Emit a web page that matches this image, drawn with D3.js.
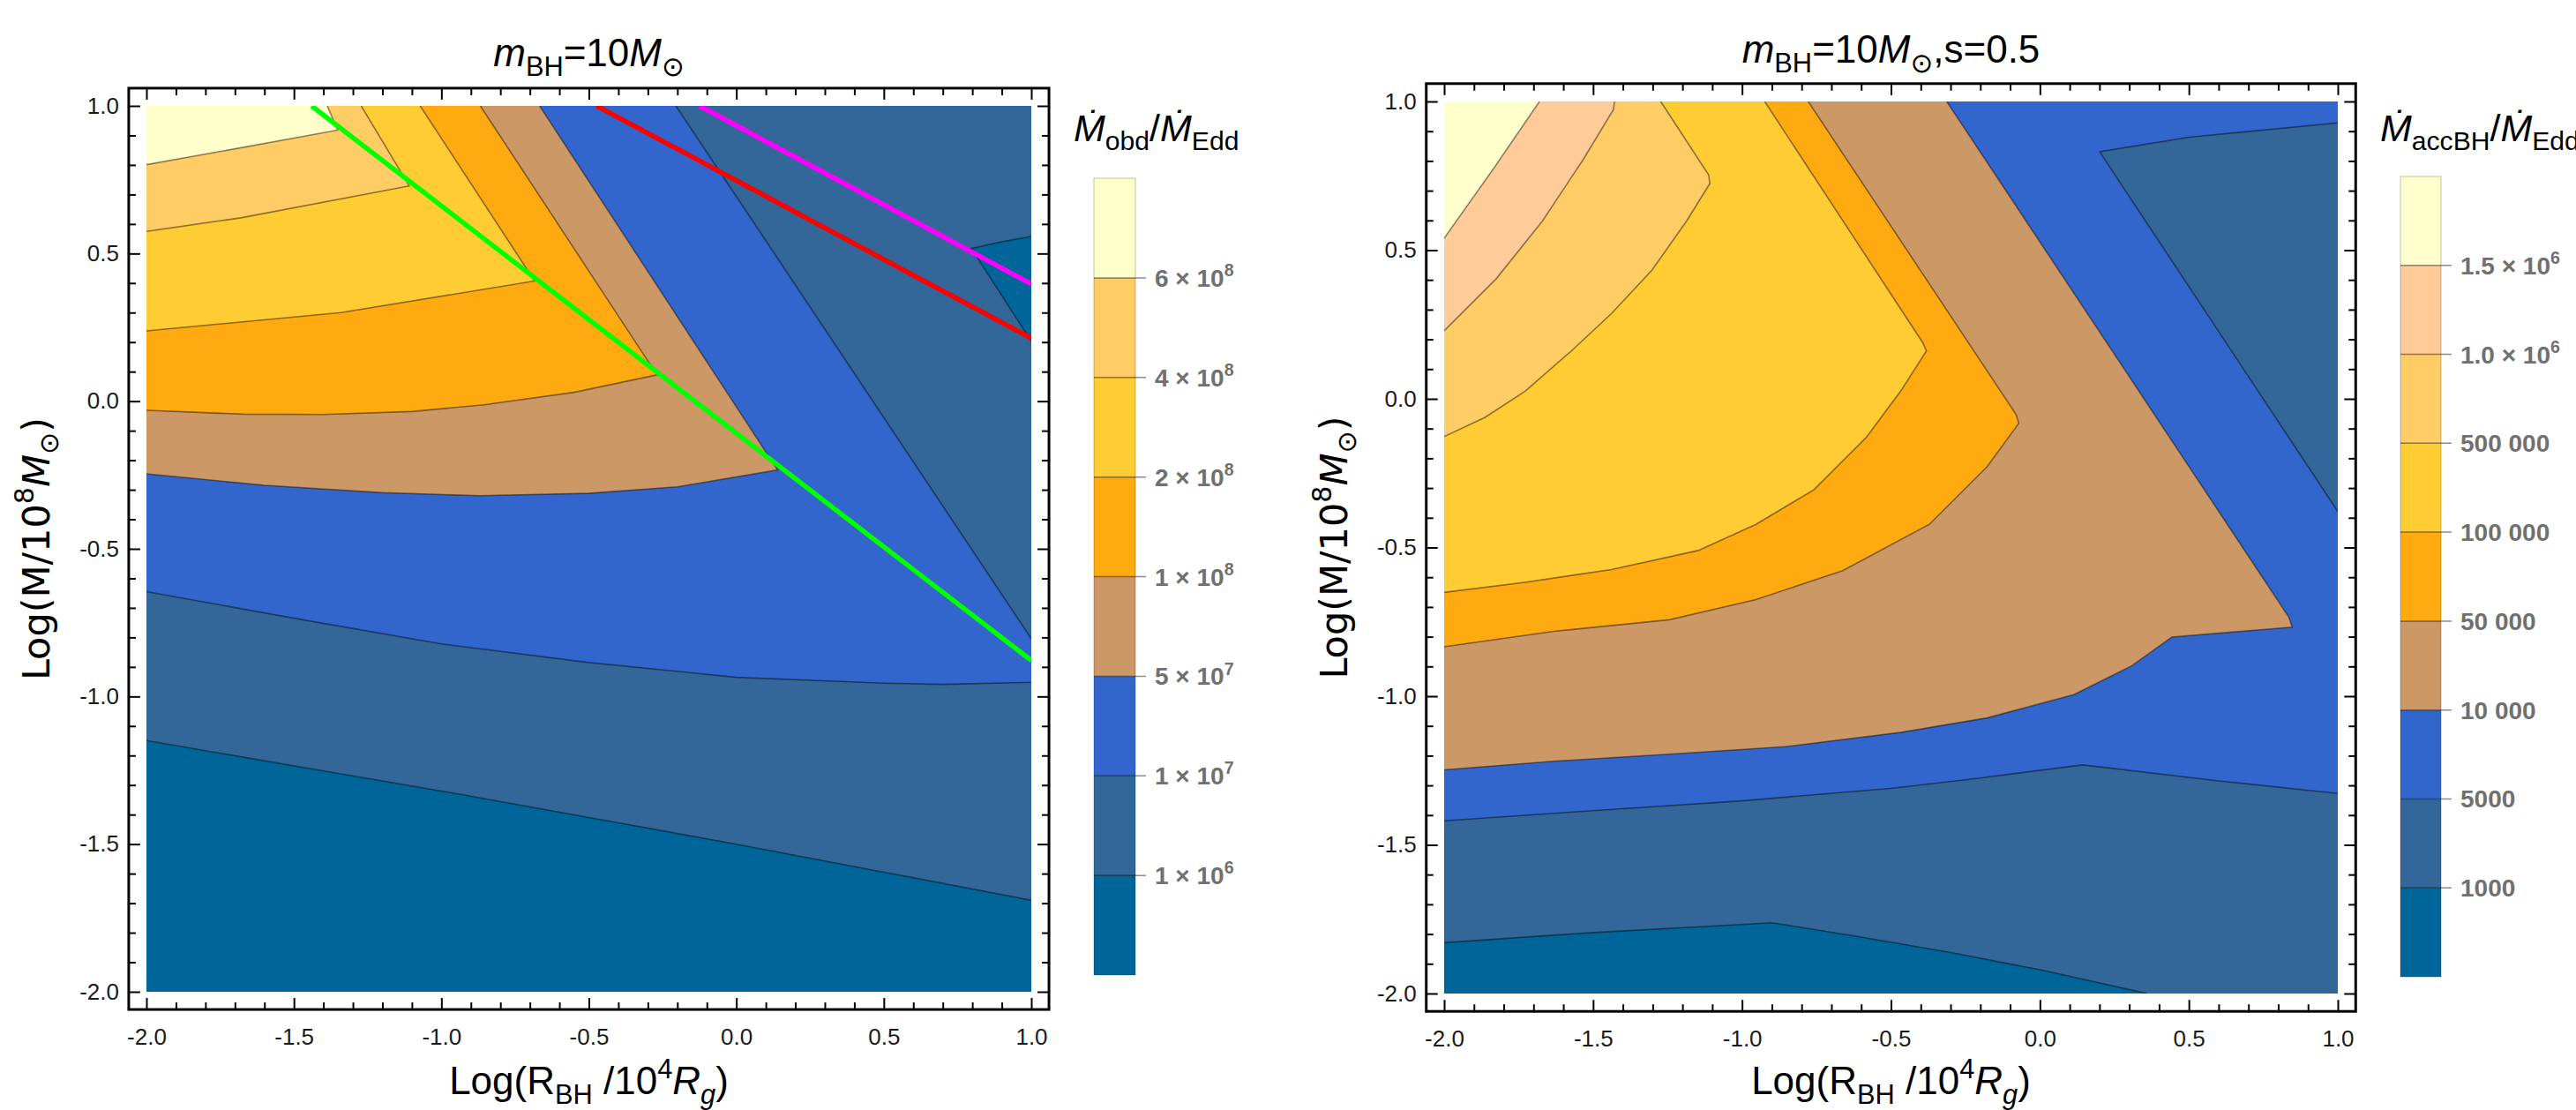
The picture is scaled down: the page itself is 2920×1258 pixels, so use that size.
<!DOCTYPE html>
<html>
<head>
<meta charset="utf-8">
<script src="https://cdn.jsdelivr.net/npm/d3@7"></script>
<style>
  body { margin: 0; background: #fff; }
  svg { display: block; font-family: 'Liberation Sans', Arial, 'DejaVu Sans', sans-serif; }
</style>
</head>
<body>
<svg id="chart" width="2920" height="1258"></svg>
<script>
// ticks (log units)
const majorTicks = [-2, -1.5, -1, -0.5, 0, 0.5, 1]
const minorTicks = d3.range(-20, 11).map(d => d / 10)
    .filter(v => Math.abs(v * 2 - Math.round(v * 2)) > 1e-6)

// contour colours, lowest band first
const obdColors = ['#006699', '#336699', '#3366CC', '#CC9966', '#FFAA11', '#FFCC33', '#FFCC66', '#FFFFCC']
const accColors = ['#006699', '#336699', '#3366CC', '#CC9966', '#FFAA11', '#FFCC33', '#FFCC66', '#FFCC99', '#FFFFCC']

// legend labels: [mantissa, exponent] or plain text
const obdLabels = [['1', '6'], ['1', '7'], ['5', '7'], ['1', '8'], ['2', '8'], ['4', '8'], ['6', '8']]
const accLabels = ['1000', '5000', '10 000', '50 000', '100 000', '500 000', ['1.0', '6'], ['1.5', '6']]

// left panel contour lines [logR, logM]
const obd1e6Low = [[-2, -1.149], [-1.5, -1.235], [-1, -1.32], [-0.5, -1.41], [0, -1.5], [0.5, -1.595], [1, -1.69]]
const obd1e6Corner = [[1, 0.558], [0.9, 0.54], [0.797, 0.517], [1, 0.203]]
const obd1e7Curve = [[-2, -0.645], [-1.5, -0.735], [-1, -0.822], [-0.5, -0.885], [0, -0.935], [0.5, -0.955], [0.7, -0.959], [1, -0.952]]
const obd1e7Wedge = [[-0.205, 1], [1, -0.804]]
const obd5e7 = [[-2, -0.246], [-1.6, -0.285], [-1.2, -0.31], [-0.87, -0.32], [-0.5, -0.312], [-0.2, -0.29], [0.14, -0.233], [-0.667, 1]]
const obd1e8 = [[-2, -0.031], [-1.67, -0.044], [-1.4, -0.045], [-1.1, -0.035], [-0.855, -0.012], [-0.55, 0.03], [-0.269, 0.089], [-0.868, 1]]
const obd2e8 = [[-2, 0.238], [-1.34, 0.3], [-0.684, 0.407], [-1.072, 1]]
const obd4e8 = [[-2, 0.575], [-1.68, 0.621], [-1.109, 0.729], [-1.272, 1]]
const obd6e8 = [[-2, 0.801], [-1.67, 0.86], [-1.352, 0.918], [-1.387, 1]]

const greenLine = [[-1.44, 1], [1, -0.878]]
const redLine = [[-0.473, 1], [1, 0.213]]
const magentaLine = [[-0.124, 1], [1, 0.397]]

// right panel contour lines
const acc1e3 = [[-2, -1.829], [-1.5, -1.795], [-1, -1.768], [-0.9, -1.762], [-0.6, -1.81], [-0.3, -1.862], [0, -1.92], [0.36, -2]]
const acc5e3Low = [[-2, -1.419], [-1.5, -1.385], [-1, -1.352], [-0.5, -1.31], [-0.2, -1.275], [0.144, -1.231], [0.6, -1.285], [1, -1.327]]
const acc5e3Wedge = [[1, 0.928], [0.501, 0.88], [0.201, 0.831], [0.207, 0.821], [1, -0.379]]
const acc1e4 = [[-2, -1.248], [-1.632, -1.219], [-1.244, -1.195], [-0.856, -1.17], [-0.468, -1.122], [-0.177, -1.073], [0.114, -0.995], [0.308, -0.898], [0.443, -0.801], [0.847, -0.768], [0.835, -0.733], [-0.313, 1]]
const acc5e4 = [[-2, -0.834], [-1.632, -0.782], [-1.244, -0.743], [-0.953, -0.675], [-0.662, -0.578], [-0.371, -0.422], [-0.177, -0.228], [-0.071, -0.082], [-0.08, -0.053], [-0.778, 1]]
const acc1e5 = [[-2, -0.651], [-1.729, -0.617], [-1.438, -0.574], [-1.147, -0.51], [-0.953, -0.422], [-0.759, -0.306], [-0.584, -0.131], [-0.468, 0.025], [-0.381, 0.161], [-0.394, 0.19], [-0.924, 1]]
const acc5e5 = [[-2, -0.127], [-1.864, -0.063], [-1.729, 0.025], [-1.573, 0.161], [-1.438, 0.287], [-1.302, 0.433], [-1.186, 0.598], [-1.108, 0.724], [-1.112, 0.753], [-1.273, 1]]
const acc1e6 = [[-2, 0.229], [-1.825, 0.404], [-1.67, 0.598], [-1.535, 0.802], [-1.432, 0.972], [-1.428, 1]]
const acc15e5 = [[-2, 0.54], [-1.835, 0.773], [-1.68, 1]]

const TL = [-2, 1], TR = [1, 1], BR = [1, -2]
const rev = a => a.slice().reverse()

const svg = d3.select('#chart')

// text with italic / sub / sup pieces
const richText = (sel, parts, fs) => {
    let shift = 0
    parts.forEach(p => {
        const target = p.sub ? 0.24 * fs : p.sup ? -0.42 * fs : 0
        const ts = sel.append('tspan').text(p.t).attr('dy', target - shift)
        shift = target
        if (p.sub || p.sup) ts.attr('font-size', fs * 0.7)
        if (p.i) ts.attr('font-style', 'italic')
    })
}

const drawPanel = (p) => {
    const x = d3.scaleLinear().domain([-2, 1]).range([p.x0, p.x1])
    const y = d3.scaleLinear().domain([-2, 1]).range([p.y1, p.y0])
    const line = d3.line().x(d => x(d[0])).y(d => y(d[1]))
    const g = svg.append('g')

    g.append('clipPath').attr('id', p.id + '-clip')
        .append('rect')
            .attr('x', x(-2)).attr('y', y(1))
            .attr('width', x(1) - x(-2)).attr('height', y(-2) - y(1))

    const body = g.append('g').attr('clip-path', `url(#${p.id}-clip)`)
    body.append('rect')
        .attr('x', x(-2)).attr('y', y(1))
        .attr('width', x(1) - x(-2)).attr('height', y(-2) - y(1))
        .attr('fill', p.colors[0])

    body.selectAll('path.band')
        .data(p.regions)
        .join('path')
            .attr('class', 'band')
            .attr('d', r => line(r.pts) + 'Z')
            .attr('fill', r => p.colors[r.band])

    body.selectAll('path.contour')
        .data(p.contours)
        .join('path')
            .attr('class', 'contour')
            .attr('d', line)
            .attr('fill', 'none')
            .attr('stroke', '#000')
            .attr('stroke-opacity', 0.45)
            .attr('stroke-width', 1.6)

    body.selectAll('path.overlay')
        .data(p.overlays || [])
        .join('path')
            .attr('class', 'overlay')
            .attr('d', o => line(o.pts))
            .attr('fill', 'none')
            .attr('stroke', o => o.color)
            .attr('stroke-width', 5.5)

    //frame with inward ticks on all four sides
    const pad = 0.06
    const fx0 = x(-2 - pad), fx1 = x(1 + pad), fy0 = y(1 + pad), fy1 = y(-2 - pad)

    const styleAxis = (a, labels) => {
        a.select('.domain').remove()
        a.selectAll('line').attr('stroke', '#000').attr('stroke-width', 2)
        a.selectAll('text')
            .attr('font-size', labels ? 26 : 0)
            .attr('font-family', "'Liberation Sans', Arial, sans-serif")
            .attr('fill', '#1a1a1a')
    }
    const fmt = d => d.toFixed(1)
    const addAxes = (vals, size, labels) => {
        styleAxis(g.append('g').attr('transform', `translate(0,${fy1})`)
            .call(d3.axisBottom(x).tickValues(vals).tickSizeInner(-size).tickSizeOuter(0)
                .tickPadding(21).tickFormat(labels ? fmt : () => '')), labels)
        styleAxis(g.append('g').attr('transform', `translate(0,${fy0})`)
            .call(d3.axisTop(x).tickValues(vals).tickSizeInner(-size).tickSizeOuter(0)
                .tickFormat(() => '')), false)
        styleAxis(g.append('g').attr('transform', `translate(${fx0},0)`)
            .call(d3.axisLeft(y).tickValues(vals).tickSizeInner(-size).tickSizeOuter(0)
                .tickPadding(11).tickFormat(labels ? fmt : () => '')), labels)
        styleAxis(g.append('g').attr('transform', `translate(${fx1},0)`)
            .call(d3.axisRight(y).tickValues(vals).tickSizeInner(-size).tickSizeOuter(0)
                .tickFormat(() => '')), false)
    }
    addAxes(majorTicks, 13, true)
    addAxes(minorTicks, 8, false)

    g.append('rect')
        .attr('x', fx0).attr('y', fy0)
        .attr('width', fx1 - fx0).attr('height', fy1 - fy0)
        .attr('fill', 'none')
        .attr('stroke', '#000')
        .attr('stroke-width', 3)

    //titles
    const cx = (x(-2) + x(1)) / 2
    richText(g.append('text')
        .attr('x', cx).attr('y', p.titleY)
        .attr('text-anchor', 'middle')
        .attr('font-size', 44), p.title, 44)

    richText(g.append('text')
        .attr('x', cx).attr('y', 1240)
        .attr('text-anchor', 'middle')
        .attr('font-size', 44),
        [{ t: 'Log(R' }, { t: 'BH', sub: true }, { t: ' /10' }, { t: '4', sup: true },
         { t: 'R', i: true }, { t: 'g', sub: true, i: true }, { t: ')' }], 44)

    richText(g.append('text')
        .attr('transform', `translate(${fx0 - 90},${(y(1) + y(-2)) / 2}) rotate(-90)`)
        .attr('text-anchor', 'middle')
        .attr('font-family', "'DejaVu Sans', sans-serif")
        .attr('font-size', 43),
        [{ t: 'Log(M/10' }, { t: '8', sup: true }, { t: 'M', i: true }, { t: '⊙', sub: true }, { t: ')' }], 43)

    //color legend
    const n = p.colors.length
    const cb = d3.scaleLinear().domain([0, n]).range([p.by1, p.by0])
    const leg = svg.append('g')
    leg.selectAll('rect')
        .data(p.colors)
        .join('rect')
            .attr('x', p.bx0)
            .attr('y', (d, i) => cb(i + 1))
            .attr('width', p.bx1 - p.bx0)
            .attr('height', (d, i) => cb(i) - cb(i + 1))
            .attr('fill', d => d)
    leg.append('rect')
        .attr('x', p.bx0).attr('y', p.by0)
        .attr('width', p.bx1 - p.bx0).attr('height', p.by1 - p.by0)
        .attr('fill', 'none')
        .attr('stroke', '#000').attr('stroke-opacity', 0.25)

    leg.selectAll('line')
        .data(p.labels)
        .join('line')
            .attr('x1', p.bx0).attr('x2', p.bx1 + 12)
            .attr('y1', (d, i) => cb(i + 1)).attr('y2', (d, i) => cb(i + 1))
            .attr('stroke', '#000').attr('stroke-opacity', 0.45)
            .attr('stroke-width', 1.5)

    leg.selectAll('text.lab')
        .data(p.labels)
        .join('text')
            .attr('class', 'lab')
            .attr('x', p.bx1 + 22)
            .attr('y', (d, i) => cb(i + 1) + 10)
            .attr('font-size', 28)
            .attr('font-weight', 'bold')
            .attr('fill', '#707070')
            .each(function (d) {
                if (Array.isArray(d)) {
                    richText(d3.select(this), [{ t: `${d[0]} × 10` }, { t: d[1], sup: true }], 28)
                } else {
                    d3.select(this).text(d)
                }
            })

    richText(leg.append('text')
        .attr('x', p.bx0 - 23).attr('y', 160)
        .attr('font-size', 43), p.legendTitle, 43)
}

drawPanel({
    id: 'obd',
    x0: 166, x1: 1169, y0: 120, y1: 1124,
    titleY: 75,
    title: [{ t: 'm', i: true }, { t: 'BH', sub: true }, { t: '=10' }, { t: 'M', i: true }, { t: '⊙', sub: true }],
    colors: obdColors,
    regions: [
        { band: 1, pts: [...obd1e6Low, ...rev(obd1e6Corner), TR, TL] },
        { band: 2, pts: [...obd1e7Curve, ...rev(obd1e7Wedge), TL] },
        { band: 3, pts: [...obd5e7, TL] },
        { band: 4, pts: [...obd1e8, TL] },
        { band: 5, pts: [...obd2e8, TL] },
        { band: 6, pts: [...obd4e8, TL] },
        { band: 7, pts: [...obd6e8, TL] }
    ],
    contours: [obd1e6Low, obd1e6Corner, obd1e7Curve, obd1e7Wedge, obd5e7, obd1e8, obd2e8, obd4e8, obd6e8],
    overlays: [
        { pts: greenLine, color: '#00FF00' },
        { pts: redLine, color: '#FF0000' },
        { pts: magentaLine, color: '#FF00FF' }
    ],
    bx0: 1240, bx1: 1287, by0: 202, by1: 1105,
    labels: obdLabels,
    legendTitle: [{ t: 'Ṁ', i: true }, { t: 'obd', sub: true }, { t: '/' }, { t: 'Ṁ', i: true }, { t: 'Edd', sub: true }]
})

drawPanel({
    id: 'acc',
    x0: 1637, x1: 2650, y0: 115, y1: 1126,
    titleY: 71,
    title: [{ t: 'm', i: true }, { t: 'BH', sub: true }, { t: '=10' }, { t: 'M', i: true }, { t: '⊙', sub: true }, { t: ',s=0.5' }],
    colors: accColors,
    regions: [
        { band: 1, pts: [...acc1e3, BR, TR, TL] },
        { band: 2, pts: [...acc5e3Low, ...rev(acc5e3Wedge), TR, TL] },
        { band: 3, pts: [...acc1e4, TL] },
        { band: 4, pts: [...acc5e4, TL] },
        { band: 5, pts: [...acc1e5, TL] },
        { band: 6, pts: [...acc5e5, TL] },
        { band: 7, pts: [...acc1e6, TL] },
        { band: 8, pts: [...acc15e5, TL] }
    ],
    contours: [acc1e3, acc5e3Low, acc5e3Wedge, acc1e4, acc5e4, acc1e5, acc5e5, acc1e6, acc15e5],
    bx0: 2721, bx1: 2767, by0: 200, by1: 1107,
    labels: accLabels,
    legendTitle: [{ t: 'Ṁ', i: true }, { t: 'accBH', sub: true }, { t: '/' }, { t: 'Ṁ', i: true }, { t: 'Edd', sub: true }]
})
</script>
</body>
</html>
